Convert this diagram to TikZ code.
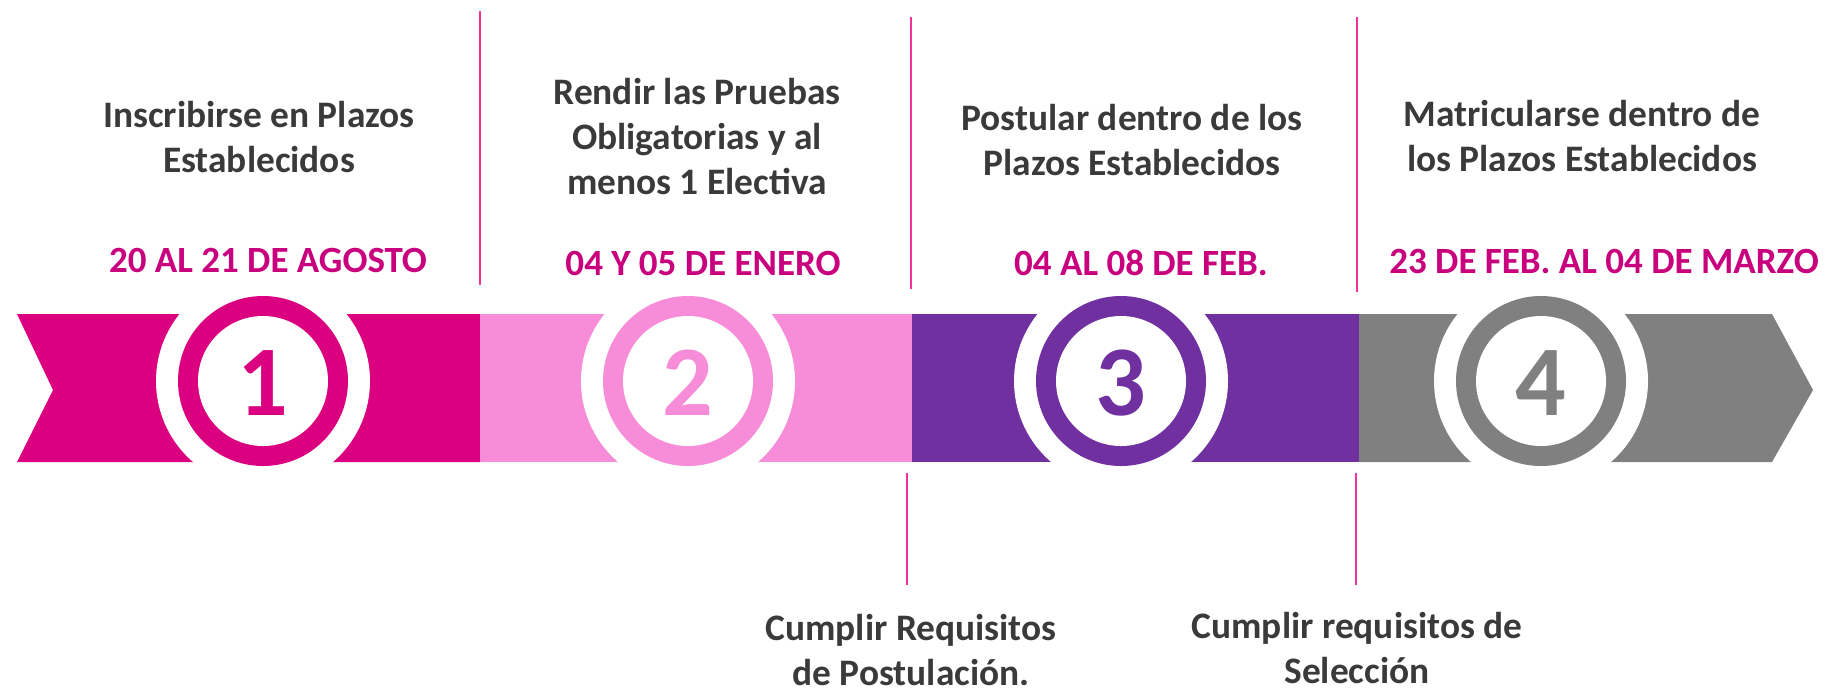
\documentclass[tikz,border=0pt]{standalone}
\usepackage{fontspec}
\setmainfont{Carlito}
\definecolor{cA}{HTML}{DB0080}
\definecolor{cB}{HTML}{F78DD9}
\definecolor{cC}{HTML}{7030A0}
\definecolor{cD}{HTML}{808080}
\definecolor{datec}{HTML}{C8007E}
\definecolor{txtc}{HTML}{3A3A3A}
\definecolor{linec}{HTML}{F0329A}
\tikzset{
  desc/.style={text=txtc, align=center, font=\bfseries\fontsize{18.7}{22.5}\selectfont, inner sep=0pt},
  datetxt/.style={text=datec, font=\bfseries\fontsize{18.5}{22}\selectfont, inner sep=0pt},
  digit/.style={font=\bfseries\fontsize{50}{60}\selectfont, inner sep=0pt},
  sepline/.style={draw=linec, line width=0.8pt}
}
\newcommand{\stepcircle}[4]{%
  \fill[white] (#1,381) circle[radius=53.5pt];
  \fill[#2] (#1,381) circle[radius=42.5pt];
  \fill[white] (#1,381) circle[radius=32.5pt];
  \node[digit, text=#2] (#4) at (#1,383) {#3};
}
\begin{document}
\begin{tikzpicture}[x=0.5pt,y=-0.5pt]
\useasboundingbox (0,0) rectangle (1824,692);
% banner segments
\fill[cA] (17,314) -- (481,314) -- (481,462) -- (17,462) -- (53,390) -- cycle;
\fill[cB] (480,314) -- (913,314) -- (913,462) -- (480,462) -- cycle;
\fill[cC] (912,314) -- (1360,314) -- (1360,462) -- (912,462) -- cycle;
\fill[cD] (1359,314) -- (1772,314) -- (1813,390) -- (1772,462) -- (1359,462) -- cycle;
% circles
\stepcircle{263}{cA}{1}{n1}
\stepcircle{688}{cB}{2}{n2}
\stepcircle{1121}{cC}{3}{n3}
\stepcircle{1541}{cD}{4}{n4}
% separator lines
\coordinate (l1a) at (480,11); \coordinate (l1b) at (480,285);
\coordinate (l2a) at (911,17); \coordinate (l2b) at (911,289);
\coordinate (l3a) at (1357,17); \coordinate (l3b) at (1357,292);
\coordinate (l4a) at (907,473); \coordinate (l4b) at (907,585);
\coordinate (l5a) at (1356,473); \coordinate (l5b) at (1356,585);
\draw[sepline] (l1a) -- (l1b);
\draw[sepline] (l2a) -- (l2b);
\draw[sepline] (l3a) -- (l3b);
\draw[sepline] (l4a) -- (l4b);
\draw[sepline] (l5a) -- (l5b);
% descriptions
\node[desc] (d1) at (259,137) {Inscribirse en Plazos\\Establecidos};
\node[desc] (d2) at (697,137) {Rendir las Pruebas\\Obligatorias y al\\menos 1 Electiva};
\node[desc] (d3) at (1132,140) {Postular dentro de los\\Plazos Establecidos};
\node[desc] (d4) at (1582,136) {Matricularse dentro de\\los Plazos Establecidos};
\node[desc] (d5) at (911,650) {Cumplir Requisitos\\de Postulación.};
\node[desc] (d6) at (1357,648) {Cumplir requisitos de\\Selección};
% dates
\node[datetxt] (t1) at (268,260) {20 AL 21 DE AGOSTO};
\node[datetxt] (t2) at (703,263) {04 Y 05 DE ENERO};
\node[datetxt] (t3) at (1141,263) {04 AL 08 DE FEB.};
\node[datetxt] (t4) at (1604,261) {23 DE FEB. AL 04 DE MARZO};
\end{tikzpicture}
\end{document}
